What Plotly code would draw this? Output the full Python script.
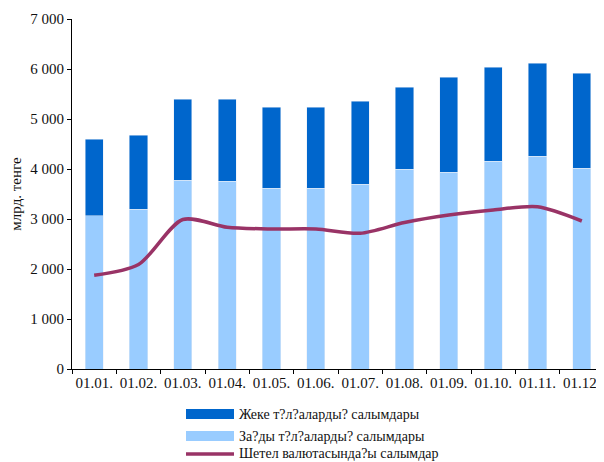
import plotly.graph_objects as go

# данные
months = ["01.01.", "01.02.", "01.03.", "01.04.", "01.05.", "01.06.",
          "01.07.", "01.08.", "01.09.", "01.10.", "01.11.", "01.12."]
legal = [3065, 3200, 3780, 3760, 3620, 3620, 3700, 4000, 3940, 4160, 4260, 4020]
total = [4600, 4680, 5400, 5400, 5240, 5240, 5360, 5640, 5840, 6040, 6120, 5920]
individual = [t - l for t, l in zip(total, legal)]
foreign = [1875, 2090, 2990, 2835, 2800, 2800, 2715, 2930, 3080, 3180, 3245, 2960]

names = ["Жеке т?л?аларды? салымдары",
         "За?ды т?л?аларды? салымдары",
         "Шетел валютасында?ы салымдар"]
y_ticks = [0, 1000, 2000, 3000, 4000, 5000, 6000, 7000]
y_labels = ["0", "1 000", "2 000", "3 000", "4 000", "5 000", "6 000", "7 000"]

dark_blue = "#0066CC"
light_blue = "#99CCFF"
plum = "#993366"
font = "Liberation Serif, Times New Roman, serif"

fig = go.Figure()
fig.add_trace(go.Bar(x=months, y=legal, name=names[1], marker_color=light_blue))
fig.add_trace(go.Bar(x=months, y=individual, name=names[0], marker_color=dark_blue))
fig.add_trace(go.Scatter(x=months, y=foreign, name=names[2], mode="lines",
                         line=dict(color=plum, width=3.5, shape="spline", smoothing=0.8)))

# легенда вручную (широкие образцы как в Excel)
def px_x(p):
    return (p - 72) / 532

def px_y(p):
    return (369 - p) / 350

shapes = [
    dict(type="rect", xref="paper", yref="paper", x0=px_x(186), x1=px_x(234),
         y0=px_y(419), y1=px_y(409), fillcolor=dark_blue, line_width=0),
    dict(type="rect", xref="paper", yref="paper", x0=px_x(186), x1=px_x(234),
         y0=px_y(441), y1=px_y(431), fillcolor=light_blue, line_width=0),
    dict(type="line", xref="paper", yref="paper", x0=px_x(186), x1=px_x(234),
         y0=px_y(454), y1=px_y(454), line=dict(color=plum, width=3.5)),
]
annotations = [
    dict(text=n, xref="paper", yref="paper", x=px_x(237), y=px_y(yy),
         xanchor="left", yanchor="middle", showarrow=False,
         font=dict(family=font, size=14, color="#111"))
    for n, yy in zip(names, [414, 436, 453])
]

# страница имеет отступ 8px, поэтому фигура чуть меньше окна
fig.update_layout(
    width=596, height=454,
    barmode="stack", bargap=0.59,
    showlegend=False,
    plot_bgcolor="white", paper_bgcolor="white",
    font=dict(family=font, size=15, color="#111"),
    margin=dict(l=64, r=0, t=11, b=93),
    shapes=shapes, annotations=annotations,
)
fig.update_xaxes(showline=True, linecolor="black", linewidth=1,
                 ticks="outside", tickson="boundaries", ticklen=4, tickcolor="black",
                 showgrid=False, tickangle=0, automargin=False)
fig.update_yaxes(range=[0, 7000], tickvals=y_ticks, ticktext=y_labels,
                 showline=True, linecolor="black", linewidth=1,
                 ticks="outside", ticklen=4, tickcolor="black", showgrid=False,
                 zeroline=False, automargin=False,
                 title=dict(text="млрд. тенге", font=dict(size=15), standoff=9))

fig.write_html("out.html")
